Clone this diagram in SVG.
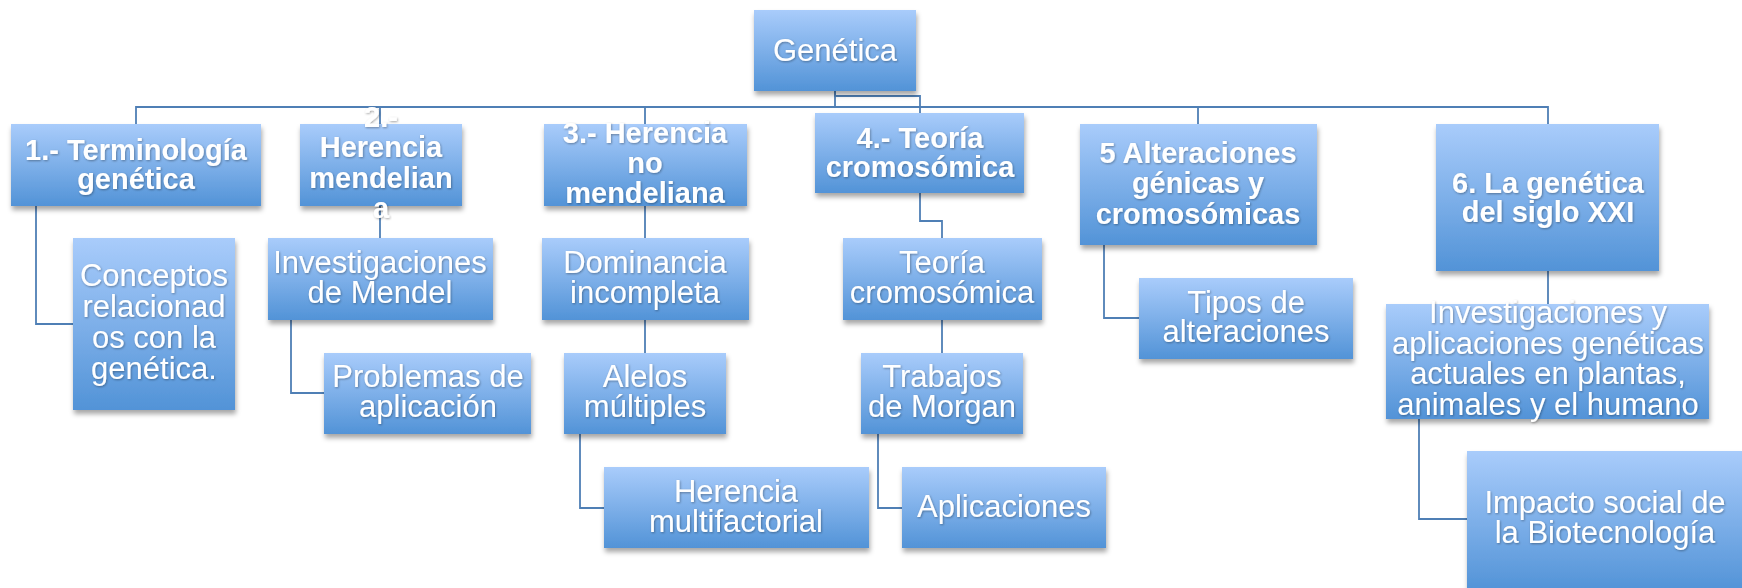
<svg xmlns="http://www.w3.org/2000/svg" width="1742" height="588" viewBox="0 0 1742 588">
<defs>
<linearGradient id="g" x1="0" y1="0" x2="0" y2="1">
<stop offset="0" stop-color="#A9CCFB"/>
<stop offset="1" stop-color="#5293D7"/>
</linearGradient>
<filter id="sh" x="-10%" y="-10%" width="120%" height="130%">
<feDropShadow dx="1" dy="4" stdDeviation="2.5" flood-color="#000" flood-opacity="0.35"/>
</filter>
<filter id="ts" x="-10%" y="-20%" width="120%" height="140%">
<feDropShadow dx="0.8" dy="1" stdDeviation="0.8" flood-color="#000" flood-opacity="0.35"/>
</filter>
</defs>
<style>
.b{fill:url(#g);filter:url(#sh);}
.t{font-family:"Liberation Sans",Arial,sans-serif;font-size:31px;fill:#fff;text-anchor:middle;filter:url(#ts);}
.h{font-family:"Liberation Sans",Arial,sans-serif;font-size:29px;font-weight:bold;fill:#fff;text-anchor:middle;filter:url(#ts);}
.c{fill:none;stroke:#4F7FB5;stroke-width:1.8;}
</style>
<g id="connectors">
<path class="c" d="M835 91V107M136 124V107H1548V124M380 107V124M645 107V124M1198 107V124"/>
<path class="c" d="M835 91V96H920V113"/>
<path class="c" d="M36 206V324H73"/>
<path class="c" d="M380 206V238"/>
<path class="c" d="M291 320V393H324"/>
<path class="c" d="M645 206V238M645 320V353"/>
<path class="c" d="M580 434V508H604"/>
<path class="c" d="M920 193V221H942V238M942 320V353"/>
<path class="c" d="M878 434V508H902"/>
<path class="c" d="M1104 245V318H1139"/>
<path class="c" d="M1548 271V304"/>
<path class="c" d="M1419 419V519H1467"/>
</g>
<g id="n0"><rect class="b" x="754" y="10" width="162" height="81"/><text class="t" x="835" y="61">Genética</text></g>
<g id="n1"><rect class="b" x="11" y="124" width="250" height="82"/><text class="h" x="136" y="160">1.- Terminología</text><text class="h" x="136" y="189">genética</text></g>
<g id="n2"><rect class="b" x="300" y="124" width="162" height="82"/><text class="h" x="381" y="127">2.-</text><text class="h" x="381" y="157">Herencia</text><text class="h" x="381" y="188">mendelian</text><text class="h" x="381" y="218">a</text></g>
<g id="n3"><rect class="b" x="544" y="124" width="203" height="82"/><text class="h" x="645" y="143">3.- Herencia</text><text class="h" x="645" y="173">no</text><text class="h" x="645" y="203">mendeliana</text></g>
<g id="n4"><rect class="b" x="815" y="113" width="209" height="80"/><text class="h" x="920" y="148">4.- Teoría</text><text class="h" x="920" y="177">cromosómica</text></g>
<g id="n5"><rect class="b" x="1080" y="124" width="237" height="121"/><text class="h" x="1198" y="163">5 Alteraciones</text><text class="h" x="1198" y="193">génicas y</text><text class="h" x="1198" y="224">cromosómicas</text></g>
<g id="n6"><rect class="b" x="1436" y="124" width="223" height="147"/><text class="h" x="1548" y="193">6. La genética</text><text class="h" x="1548" y="222">del siglo XXI</text></g>
<g id="n7"><rect class="b" x="73" y="238" width="162" height="172"/><text class="t" x="154" y="286">Conceptos</text><text class="t" x="154" y="317">relacionad</text><text class="t" x="154" y="348">os con la</text><text class="t" x="154" y="379">genética.</text></g>
<g id="n8"><rect class="b" x="268" y="238" width="225" height="82"/><text class="t" x="380" y="273">Investigaciones</text><text class="t" x="380" y="303">de Mendel</text></g>
<g id="n9"><rect class="b" x="324" y="353" width="207" height="81"/><text class="t" x="428" y="387">Problemas de</text><text class="t" x="428" y="417">aplicación</text></g>
<g id="n10"><rect class="b" x="542" y="238" width="207" height="82"/><text class="t" x="645" y="273">Dominancia</text><text class="t" x="645" y="303">incompleta</text></g>
<g id="n11"><rect class="b" x="564" y="353" width="162" height="81"/><text class="t" x="645" y="387">Alelos</text><text class="t" x="645" y="417">múltiples</text></g>
<g id="n12"><rect class="b" x="604" y="467" width="265" height="81"/><text class="t" x="736" y="502">Herencia</text><text class="t" x="736" y="532">multifactorial</text></g>
<g id="n13"><rect class="b" x="843" y="238" width="199" height="82"/><text class="t" x="942" y="273">Teoría</text><text class="t" x="942" y="303">cromosómica</text></g>
<g id="n14"><rect class="b" x="861" y="353" width="162" height="81"/><text class="t" x="942" y="387">Trabajos</text><text class="t" x="942" y="417">de Morgan</text></g>
<g id="n15"><rect class="b" x="902" y="467" width="204" height="81"/><text class="t" x="1004" y="517">Aplicaciones</text></g>
<g id="n16"><rect class="b" x="1139" y="278" width="214" height="81"/><text class="t" x="1246" y="313">Tipos de</text><text class="t" x="1246" y="342">alteraciones</text></g>
<g id="n17"><rect class="b" x="1386" y="304" width="323" height="115"/><text class="t" x="1548" y="323">Investigaciones y</text><text class="t" x="1548" y="353.5">aplicaciones genéticas</text><text class="t" x="1548" y="384">actuales en plantas,</text><text class="t" x="1548" y="414.5">animales y el humano</text></g>
<g id="n18"><rect class="b" x="1467" y="451" width="276" height="140"/><text class="t" x="1605" y="513">Impacto social de</text><text class="t" x="1605" y="543">la Biotecnología</text></g>
</svg>
